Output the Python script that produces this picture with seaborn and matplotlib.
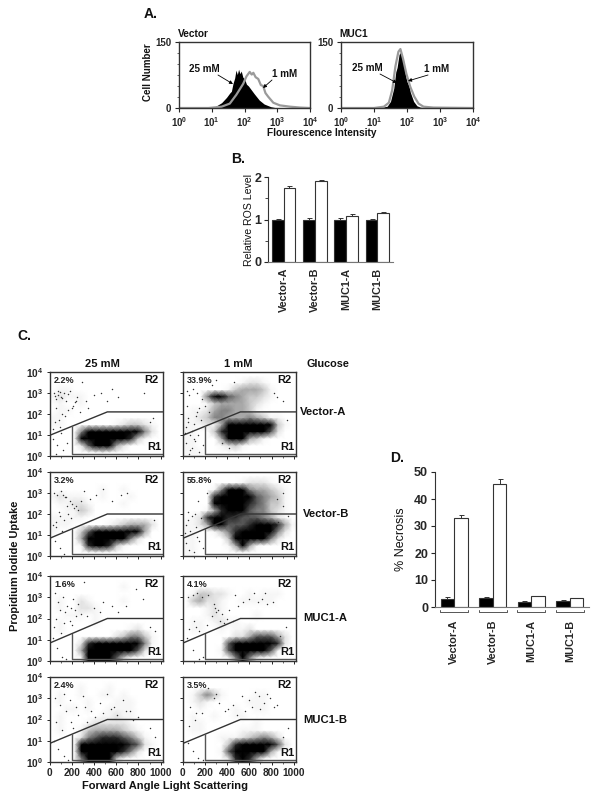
import numpy as np
import pandas as pd
import seaborn as sns
import matplotlib.pyplot as plt

sns.set_style('white')
plt.rcParams['font.family'] = ['Liberation Sans', 'DejaVu Sans']
plt.rcParams['font.weight'] = 'bold'
plt.rcParams['mathtext.fontset'] = 'custom'
plt.rcParams['mathtext.bf'] = 'Liberation Sans:bold'
plt.rcParams['mathtext.rm'] = 'Liberation Sans:bold'

W, H = 602, 801
DARK = '#333333'

# panel A, log10 fluorescence vs cell number
vec_black_x = [0.9, 1.1, 1.3, 1.45, 1.55, 1.6, 1.65, 1.7, 1.74, 1.78, 1.82, 1.86, 1.9, 1.95, 2.0, 2.06, 2.12, 2.18, 2.3, 2.45, 2.6, 2.8, 3.0]
vec_black_y = [0, 3, 12, 24, 34, 38, 56, 68, 86, 76, 88, 78, 84, 70, 66, 54, 50, 44, 32, 18, 9, 3, 0]
vec_grey_x = [0, 0.9, 1.3, 1.55, 1.75, 1.96, 2.06, 2.12, 2.16, 2.22, 2.27, 2.34, 2.42, 2.5, 2.57, 2.64, 2.72, 2.88, 3.08, 3.39, 3.7, 4.0]
vec_grey_y = [0, 0, 3, 10, 30, 55, 72, 78, 82, 76, 80, 70, 66, 52, 50, 34, 26, 12, 6, 3, 1, 0]
muc_black_x = [1.2, 1.4, 1.5, 1.6, 1.66, 1.7, 1.76, 1.82, 1.86, 1.9, 1.96, 2.0, 2.06, 2.1, 2.2, 2.3, 2.4, 2.6]
muc_black_y = [1, 4, 15, 45, 82, 92, 122, 128, 112, 106, 72, 60, 50, 36, 15, 5, 2, 0]
muc_grey_x = [0, 1.0, 1.3, 1.45, 1.55, 1.65, 1.74, 1.8, 1.88, 1.98, 2.1, 2.22, 2.35, 2.5, 2.8, 4.0]
muc_grey_y = [0, 0, 3, 12, 40, 95, 128, 134, 112, 78, 48, 26, 10, 3, 1, 0]

# panels B and D
cells = ['Vector-A', 'Vector-B', 'MUC1-A', 'MUC1-B']
glucose = ['25 mM', '1 mM']
ros_25 = [1.0, 1.0, 1.0, 1.0]
ros_1 = [1.75, 1.9, 1.09, 1.15]
ros_25_err = [0.01, 0.03, 0.03, 0.02]
ros_1_err = [0.05, 0.02, 0.04, 0.02]
nec_25 = [3.0, 3.5, 2.0, 2.2]
nec_1 = [33.0, 45.5, 3.9, 3.4]
nec_25_err = [0.6, 0.3, 0.4, 0.3]
nec_1_err = [0.9, 2.0, 0.2, 0.1]

# panel C: dot density, 12 rows (top = 10^4) x 16 columns, 0 empty .. 9 solid
dens_va_25 = ['0000000000000000', '0000000000000000', '0110000000000000', '1211100000000000',
              '0100100000000000', '0110000000000000', '1100000000000000', '1100000001233210',
              '0000589999988520', '0000899999973100', '0000269984200000', '0000000100000000']
dens_va_1 = ['0000000000000000', '0000000012210000', '0000001344431000', '0005896543321000',
             '0001344443210000', '0112455443100000', '1123554445431100', '1112149999998310',
             '1100379999986200', '1100048984310000', '1100012310000000', '1110000000000000']
dens_vb_25 = ['0000000000000000', '0000000000000000', '0000000100100000', '1211100100010000',
              '0112210000100000', '0011320000000000', '1111100000000000', '1110000012344420',
              '1000369999998400', '0000499999852000', '0000179973100000', '0000000000000000']
dens_vb_1 = ['0000000000000000', '0000000012221000', '0000158885443210', '0000799998654310',
             '0000899987653310', '0001478886553210', '0127997766654210', '1124986667899741',
             '1100135789999520', '1100003998985200', '1100001484100000', '1100000000000000']
dens_ma_25 = ['0000000000000000', '0000000000100000', '0000000000000000', '0100210000100000',
              '0100221000000000', '0011101000000000', '0100001000000000', '0100000000012000',
              '0000000002355310', '0000279999999510', '0000499999996200', '0000188986310000']
dens_ma_1 = ['0000000000000000', '0000000000000000', '0133221001011100', '0342210011111000',
             '0001210000000000', '0001210000100000', '0110121100000000', '0110010112000000',
             '0000000224666420', '0000006999999720', '0000016999986100', '0000001585210000']
dens_mb_25 = ['0000000000000000', '0000100010000000', '0100100110100000', '0100010001110000',
              '0011010011110000', '0100000112110000', '0100012222210000', '0100134444321000',
              '0000256777653100', '0000899998876210', '0000999999752000', '0000599983100000']
dens_mb_1 = ['0000000000000000', '0000000000000000', '0135310000110000', '0121000001110000',
             '0010000100110000', '0100100110000000', '0110000000100000', '0110000011100000',
             '0000011123454200', '0000003799999620', '0000016999984100', '0000002797410000']

# stray dots, x and log10 y
dots_va_25_x = [40, 60, 80, 100, 130, 150, 185, 210, 250, 290, 330, 400, 460, 520, 620, 850, 60, 110, 170, 240, 50, 90, 140, 30, 70, 120, 60, 100, 900, 930, 75, 95, 115, 165, 45, 200, 230, 275, 350, 560, 30, 85, 155]
dots_va_25_y = [3.0, 2.7, 3.1, 2.8, 3.0, 2.6, 3.1, 2.4, 2.8, 3.5, 2.6, 2.9, 3.0, 2.6, 2.8, 3.0, 2.3, 2.0, 2.2, 2.6, 1.6, 1.4, 1.9, 0.8, 0.5, 0.3, 0.1, 1.1, 1.6, 1.8, 2.9, 3.05, 2.75, 2.95, 2.85, 2.3, 2.55, 2.1, 2.3, 3.2, 1.3, 1.7, 0.6]
dots_va_1_x = [30, 50, 80, 120, 150, 170, 60, 40, 90, 130, 30, 70, 100, 150, 180, 140, 850, 900, 940, 820, 780, 350, 420, 300, 260, 460, 25, 45, 65, 105, 125, 165, 35, 55, 85, 115, 200, 240]
dots_va_1_y = [1.4, 1.8, 1.2, 1.9, 2.3, 2.7, 2.9, 3.1, 3.2, 3.0, 0.6, 0.3, 0.8, 0.2, 0.5, 1.0, 2.8, 2.6, 1.7, 3.0, 1.2, 0.6, 0.4, 3.6, 3.4, 3.5, 1.1, 1.6, 1.0, 1.5, 2.1, 1.7, 2.4, 0.1, 0.4, 0.7, 2.4, 2.1]
dots_vb_25_x = [40, 70, 100, 140, 180, 220, 260, 310, 360, 420, 480, 560, 640, 700, 90, 130, 170, 60, 110, 50, 90, 130, 940, 55, 85, 120, 160, 200, 240, 280, 30, 150, 190]
dots_vb_25_y = [3.0, 2.9, 3.1, 2.8, 2.6, 2.3, 2.2, 3.1, 2.7, 2.9, 3.2, 2.6, 2.9, 3.0, 1.9, 1.7, 2.0, 1.4, 1.2, 0.7, 0.4, 0.1, 1.7, 1.6, 2.1, 2.9, 2.4, 2.5, 2.4, 2.6, 1.5, 2.8, 1.8]
dots_vb_1_x = [30, 50, 70, 110, 140, 30, 60, 100, 150, 180, 850, 900, 950, 800, 760, 220, 130, 20, 45, 80, 120, 165, 900, 860]
dots_vb_1_y = [1.5, 1.7, 1.2, 2.0, 2.6, 0.6, 0.3, 0.2, 0.7, 0.4, 2.7, 3.0, 1.9, 1.2, 0.9, 3.0, 0.9, 1.1, 2.1, 1.9, 1.4, 1.8, 2.4, 1.6]
dots_ma_25_x = [50, 80, 120, 160, 210, 260, 310, 400, 480, 560, 620, 780, 840, 60, 130, 180, 240, 30, 70, 110, 150, 900, 950, 90, 140, 190, 230, 280, 340, 450, 690, 40, 100, 200]
dots_ma_25_y = [3.2, 2.8, 3.0, 2.6, 2.9, 2.7, 3.7, 2.5, 2.8, 2.6, 2.3, 3.4, 2.9, 2.0, 1.8, 1.9, 2.1, 1.1, 0.6, 0.2, 0.1, 1.6, 1.4, 2.4, 2.3, 2.5, 2.4, 2.2, 2.1, 2.3, 2.6, 1.6, 1.3, 1.7]
dots_ma_1_x = [50, 90, 130, 170, 230, 280, 320, 350, 400, 470, 540, 600, 680, 740, 760, 100, 150, 220, 260, 40, 90, 150, 180, 880, 930, 300, 290, 340, 370, 420, 450, 500, 640, 710, 810, 60, 120]
dots_ma_1_y = [3.0, 3.1, 3.2, 3.0, 3.1, 2.7, 2.4, 2.2, 2.0, 3.1, 2.8, 2.9, 2.8, 3.2, 2.7, 1.9, 1.4, 1.7, 2.1, 1.1, 0.5, 0.1, 0.2, 1.2, 1.6, 2.3, 2.5, 1.9, 1.8, 2.4, 1.9, 2.6, 3.2, 2.9, 2.8, 1.5, 1.6]
dots_mb_25_x = [50, 90, 130, 180, 240, 300, 370, 450, 520, 580, 660, 720, 800, 60, 110, 190, 40, 80, 130, 170, 900, 950, 260, 340, 410, 480, 550, 610, 690, 750, 150, 210, 320]
dots_mb_25_y = [3.0, 2.7, 3.2, 2.9, 2.6, 3.1, 2.4, 2.8, 3.2, 2.6, 2.9, 2.4, 2.1, 1.9, 1.5, 1.9, 1.0, 0.6, 0.3, 0.1, 1.6, 1.2, 2.2, 1.9, 2.1, 2.3, 2.5, 2.2, 2.4, 2.0, 2.4, 1.6, 2.6]
dots_mb_1_x = [70, 120, 230, 280, 330, 380, 450, 530, 600, 650, 690, 730, 790, 850, 110, 170, 60, 50, 90, 140, 180, 950, 900, 300, 410, 490, 560, 620, 700, 760, 820]
dots_mb_1_y = [2.6, 2.3, 3.5, 3.0, 2.8, 2.4, 2.7, 3.1, 2.9, 3.3, 3.1, 2.8, 3.0, 2.7, 2.0, 2.3, 1.7, 0.9, 0.5, 0.2, 0.1, 1.6, 1.2, 3.2, 2.5, 2.2, 2.4, 2.6, 2.5, 3.2, 2.6]

# gate lines (log10 y at the left edge and at the knee), and the percent in R2
gate_left = [0.98, 0.98, 0.84, 0.84, 0.84, 0.84, 0.87, 0.87]
gate_knee = [2.1, 2.1, 2.0, 2.0, 2.0, 2.0, 2.0, 2.0]
pct_labels = ['2.2%', '33.9%', '3.2%', '55.8%', '1.6%', '4.1%', '2.4%', '3.5%']

fig = plt.figure(figsize=(W / 100, H / 100), dpi=100)


def box(left, top, right, bottom):
    return fig.add_axes([left / W, 1 - bottom / H, (right - left) / W, (bottom - top) / H])


def label(x, y, s, size=8, **kw):
    kw.setdefault('ha', 'center')
    kw.setdefault('va', 'center')
    fig.text(x / W, 1 - y / H, s, fontsize=size, color='#111111', **kw)


def arrow(x0, y0, x1, y1):
    fig.add_artist(plt.Annotation('', xy=(x1 / W, 1 - y1 / H), xytext=(x0 / W, 1 - y0 / H),
                                  xycoords='figure fraction', textcoords='figure fraction',
                                  arrowprops=dict(arrowstyle='-|>', lw=0.6, color='k', mutation_scale=5,
                                                  shrinkA=0, shrinkB=0)))


def set_spines(ax, color=DARK, lw=1.0):
    for s in ax.spines.values():
        s.set_color(color)
        s.set_linewidth(lw)
        s.set_visible(True)


def log_tick_labels(decades):
    return [r'$\mathbf{10^{%d}}$' % d for d in decades]


def hist_panel(ax, bx, by, gx, gy):
    ax.fill_between(10.0 ** np.array(bx), by, color='k', lw=0)
    sns.lineplot(x=10.0 ** np.array(gx), y=gy, color='#9a9a9a', lw=1.6, ax=ax, estimator=None, sort=False)
    ax.set_xscale('log')
    ax.set_xlim(1, 1e4)
    ax.set_ylim(0, 150)
    set_spines(ax)
    ax.set_xticks([10 ** d for d in range(5)], log_tick_labels(range(5)))
    ax.set_yticks([0, 150], ['0', '150'])
    ax.set_yticks(np.arange(0, 151, 25), minor=True)
    ax.tick_params(which='major', length=3, width=0.8, pad=2.5, labelsize=7, left=True, bottom=True)
    ax.tick_params(which='minor', length=1.5, width=0.5, left=True, bottom=True)


ax_a1 = box(179, 42, 310, 108)
ax_a2 = box(341, 42, 473, 108)
hist_panel(ax_a1, vec_black_x, vec_black_y, vec_grey_x, vec_grey_y)
hist_panel(ax_a2, muc_black_x, muc_black_y, muc_grey_x, muc_grey_y)
label(151, 14, 'A.', 10)
label(178, 34, 'Vector', 7.3, ha='left')
label(339, 34, 'MUC1', 7.3, ha='left')
label(148, 72, 'Cell Number', 7, rotation=90)
label(322, 133, 'Flourescence Intensity', 7.3)
label(204, 69, '25 mM', 7.1)
label(285, 74, '1 mM', 7.1)
label(367, 68, '25 mM', 7.1)
label(437, 69, '1 mM', 7.1)
arrow(218, 75, 233, 84)
arrow(272, 80, 263, 88)
arrow(380, 74, 397, 83)
arrow(428, 75, 408, 81)


def bar_panel(ax, low, high, low_err, high_err, width):
    df = pd.DataFrame({'cell': cells * 2, 'glucose': [glucose[0]] * 4 + [glucose[1]] * 4,
                       'value': low + high})
    sns.barplot(data=df, x='cell', y='value', hue='glucose', palette=['black', 'white'], width=width,
                edgecolor=DARK, linewidth=0.8, errorbar=None, legend=False, ax=ax, gap=0)
    for cont, err in zip(ax.containers, [low_err, high_err]):
        xs = [b.get_x() + b.get_width() / 2 for b in cont]
        ys = [b.get_height() for b in cont]
        ax.errorbar(xs, ys, yerr=[[0] * 4, err], fmt='none', ecolor=DARK, elinewidth=0.7, capsize=1.8, capthick=0.7)
    ax.set_xlim(-0.5, 3.5)
    ax.set_xlabel('')
    ax.set_ylabel('')
    sns.despine(ax=ax)
    ax.spines['left'].set_visible(True)
    ax.spines['bottom'].set_visible(True)
    ax.spines['left'].set_color(DARK)
    ax.spines['bottom'].set_color('#777777')
    ax.tick_params(axis='x', length=0, rotation=90, labelsize=7.8, pad=4)
    ax.tick_params(axis='y', length=3, width=0.8, left=True, pad=2)


ax_b = box(268, 177, 393, 262)
bar_panel(ax_b, ros_25, ros_1, ros_25_err, ros_1_err, 0.75)
ax_b.set_ylim(0, 2)
ax_b.set_yticks([0, 1, 2])
ax_b.set_yticks([0.5, 1.5], minor=True)
ax_b.tick_params(axis='y', which='minor', length=2, width=0.6, left=True)
ax_b.tick_params(axis='y', labelsize=9)
label(238, 159, 'B.', 10)
label(249, 220, 'Relative ROS Level', 7.6, rotation=90, fontweight='normal')

ax_d = box(435, 472, 589, 607)
bar_panel(ax_d, nec_25, nec_1, nec_25_err, nec_1_err, 0.71)
ax_d.set_ylim(0, 50)
ax_d.set_yticks([0, 10, 20, 30, 40, 50])
ax_d.tick_params(axis='y', labelsize=9)
ax_d.tick_params(axis='x', pad=9, labelsize=7.8)
for i in range(4):
    ax_d.plot([i - 0.36, i - 0.36, i + 0.36, i + 0.36], [-1.0, -1.7, -1.7, -1.0], color='#555555', lw=0.7, clip_on=False)
label(390, 458, 'D.', 10, ha='left')
label(401, 539, '% Necrosis', 9, rotation=90, fontweight='normal')

# panel C
densities = [dens_va_25, dens_va_1, dens_vb_25, dens_vb_1, dens_ma_25, dens_ma_1, dens_mb_25, dens_mb_1]
dots = [(dots_va_25_x, dots_va_25_y), (dots_va_1_x, dots_va_1_y), (dots_vb_25_x, dots_vb_25_y), (dots_vb_1_x, dots_vb_1_y),
        (dots_ma_25_x, dots_ma_25_y), (dots_ma_1_x, dots_ma_1_y), (dots_mb_25_x, dots_mb_25_y), (dots_mb_1_x, dots_mb_1_y)]
rows = [(372, 456), (472, 556), (576, 661), (677, 762)]
cols = [(49.5, 162.7), (182.7, 295.7)]
XMAX = 1018

for i, (dens, (dx, dy)) in enumerate(zip(densities, dots)):
    top, bottom = rows[i // 2]
    left, right = cols[i % 2]
    ax = box(left, top, right, bottom)
    grid = np.array([[int(c) for c in row] for row in dens], dtype=float)[::-1]
    xn = np.r_[0, (np.arange(16) + 0.5) * XMAX / 16, XMAX]
    yn = np.r_[0, (np.arange(12) + 0.5) / 3, 4]
    shade = np.clip(1.25 * (np.pad(grid, 1, mode='edge') / 9) ** 1.6, 0, 1)
    ax.set_yscale('log')
    ax.pcolormesh(xn, 10.0 ** yn, shade, cmap='gray_r', vmin=0, vmax=1, shading='gouraud', rasterized=True)
    sns.scatterplot(x=dx, y=10.0 ** np.array(dy), s=1.1, color='#333333', linewidth=0, ax=ax)
    # R2 gate and R1 box
    knee_x = 520
    ax.plot([0, knee_x, XMAX], [10 ** gate_left[i], 10 ** gate_knee[i], 10 ** gate_knee[i]], color=DARK, lw=1.0)
    cross = gate_left[i] + (gate_knee[i] - gate_left[i]) * 200 / knee_x
    ax.plot([200, 200, XMAX], [10 ** cross, 10 ** 0.1, 10 ** 0.1], color='#555555', lw=1.0)
    ax.set_xlim(0, XMAX)
    ax.set_ylim(1, 1e4)
    set_spines(ax)
    ax.set_xticks(range(0, 1001, 200))
    ax.set_xticks(range(0, 1001, 100), minor=True)
    ax.set_yticks([10 ** d for d in range(5)])
    ax.yaxis.set_minor_locator(plt.NullLocator())
    ax.tick_params(which='major', length=2.5, width=0.7, pad=2, labelsize=7.3, left=True, bottom=True)
    ax.tick_params(which='minor', length=1.5, width=0.5, bottom=True)
    ax.set_yticklabels(log_tick_labels(range(5)) if i % 2 == 0 else [])
    ax.set_xticklabels(['0', '200', '400', '600', '800', '1000'] if i >= 6 else [])
    ax.text(0.04, 0.9, pct_labels[i], transform=ax.transAxes, fontsize=6.5, color='#222222', ha='left', va='center')
    ax.text(0.9, 0.91, 'R2', transform=ax.transAxes, fontsize=8, color='#111111', ha='center', va='center')
    ax.text(0.925, 0.11, 'R1', transform=ax.transAxes, fontsize=8, color='#111111', ha='center', va='center')

label(24, 336, 'C.', 10)
label(102, 364, '25 mM', 8)
label(238, 364, '1 mM', 8)
label(328, 364, 'Glucose', 7.8)
label(300, 412, 'Vector-A', 8.1, ha='left')
label(303, 514, 'Vector-B', 8.1, ha='left')
label(303, 618, 'MUC1-A', 8.1, ha='left')
label(303, 720, 'MUC1-B', 8.1, ha='left')
label(15, 566, 'Propidium Iodide Uptake', 7.9, rotation=90)
label(165, 786, 'Forward Angle Light Scattering', 8)

fig.savefig('out.png', dpi=100)
